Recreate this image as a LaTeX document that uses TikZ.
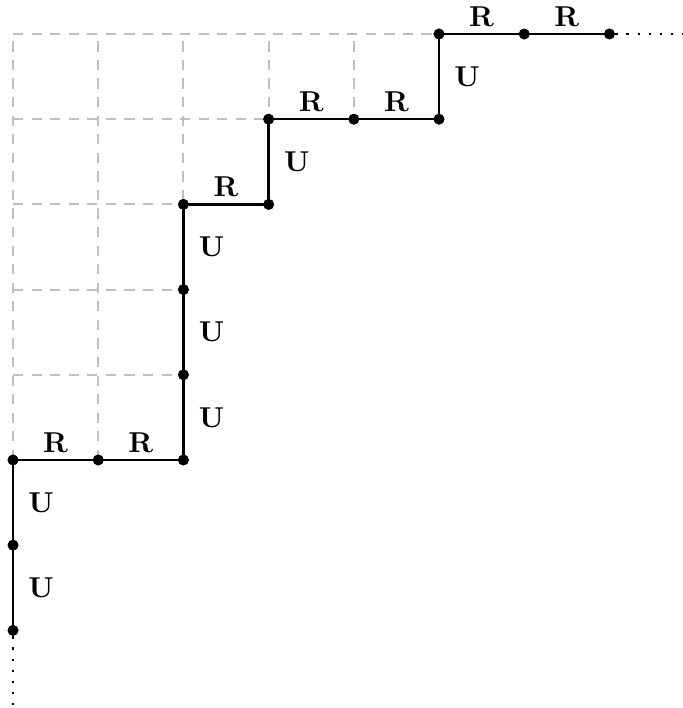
\documentclass[tikz,border=0pt]{standalone}
\begin{document}
\begin{tikzpicture}[x=1cm,y=1cm,
  dot/.style={circle,fill=black,inner sep=0pt,minimum size=3.6pt},
  pathline/.style={line width=0.8pt,black},
  gridline/.style={gray!50,dash pattern=on 3.4pt off 2.8pt,line width=0.7pt},
  dotline/.style={line width=0.8pt,dash pattern=on 0.8pt off 2.9pt},
  rlab/.style={above=-1.2pt,font=\fontsize{9.6}{11}\selectfont\bfseries},
  ulab/.style={right=1.4pt,font=\fontsize{9.6}{11}\selectfont\bfseries}]
\useasboundingbox (-0.153,-2.911) rectangle (7.852,5.399);
% grid above/left of the path
\begin{scope}
\clip (-0.2,5.2) -- (-0.2,0) -- (2,0) -- (2,3) -- (3,3) -- (3,4) -- (5,4) -- (5,5.2) -- cycle;
\draw[gridline] (0,0) grid (5,5);
\end{scope}
% path points
\node[dot] (p0) at (0,-2) {};
\node[dot] (p1) at (0,-1) {};
\node[dot] (p2) at (0,0) {};
\node[dot] (p3) at (1,0) {};
\node[dot] (p4) at (2,0) {};
\node[dot] (p5) at (2,1) {};
\node[dot] (p6) at (2,2) {};
\node[dot] (p7) at (2,3) {};
\node[dot] (p8) at (3,3) {};
\node[dot] (p9) at (3,4) {};
\node[dot] (p10) at (4,4) {};
\node[dot] (p11) at (5,4) {};
\node[dot] (p12) at (5,5) {};
\node[dot] (p13) at (6,5) {};
\node[dot] (p14) at (7,5) {};
\coordinate (endb) at (0,-2.911);
\coordinate (endr) at (7.852,5);
% steps
\draw[pathline] (p0.center) -- node[ulab]{U} (p1.center);
\draw[pathline] (p1.center) -- node[ulab]{U} (p2.center);
\draw[pathline] (p2.center) -- node[rlab]{R} (p3.center);
\draw[pathline] (p3.center) -- node[rlab]{R} (p4.center);
\draw[pathline] (p4.center) -- node[ulab]{U} (p5.center);
\draw[pathline] (p5.center) -- node[ulab]{U} (p6.center);
\draw[pathline] (p6.center) -- node[ulab]{U} (p7.center);
\draw[pathline] (p7.center) -- node[rlab]{R} (p8.center);
\draw[pathline] (p8.center) -- node[ulab]{U} (p9.center);
\draw[pathline] (p9.center) -- node[rlab]{R} (p10.center);
\draw[pathline] (p10.center) -- node[rlab]{R} (p11.center);
\draw[pathline] (p11.center) -- node[ulab]{U} (p12.center);
\draw[pathline] (p12.center) -- node[rlab]{R} (p13.center);
\draw[pathline] (p13.center) -- node[rlab]{R} (p14.center);
% redraw dots on top
\foreach \n in {p0,p1,p2,p3,p4,p5,p6,p7,p8,p9,p10,p11,p12,p13,p14}
  \fill (\n) circle (1.8pt);
% continuation
\draw[dotline] (p0) -- (endb);
\draw[dotline] (p14) -- (endr);
\end{tikzpicture}
\end{document}
